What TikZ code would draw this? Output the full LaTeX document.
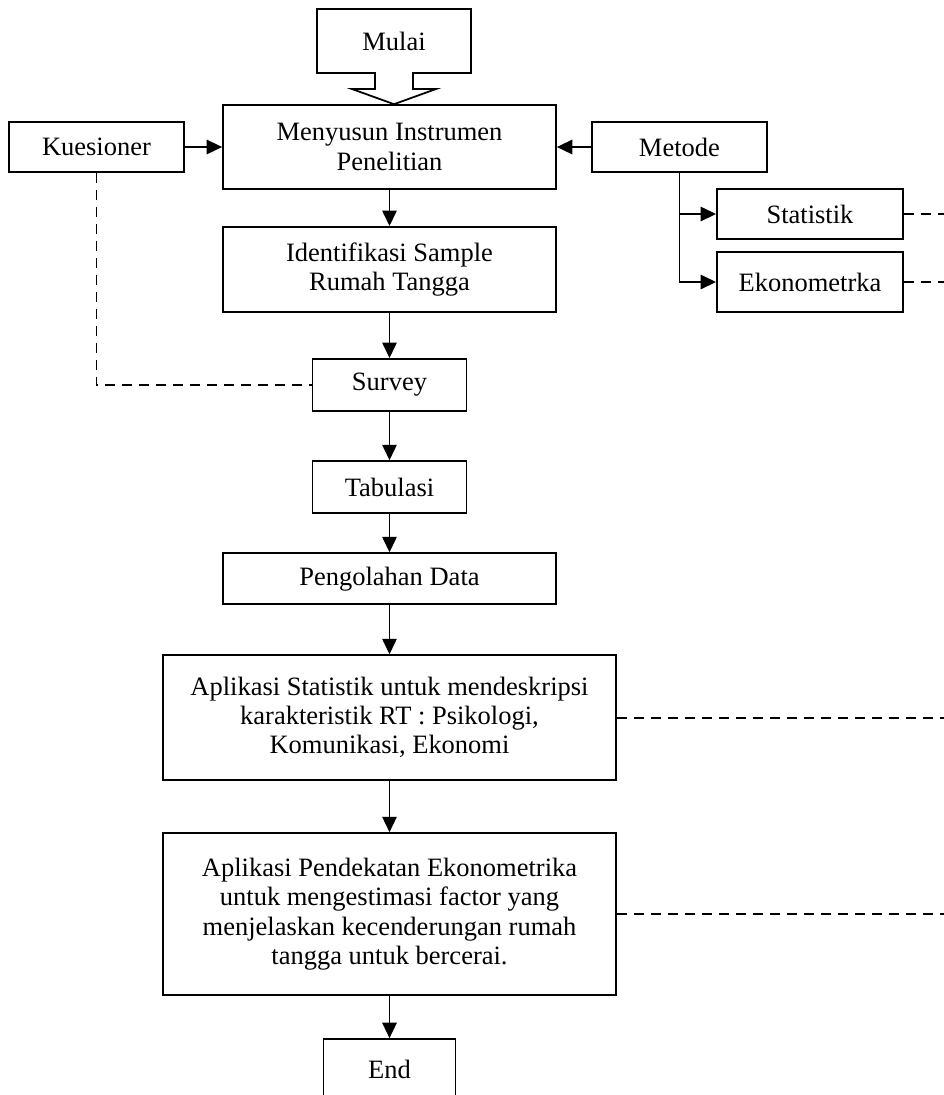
\documentclass[tikz,border=0pt]{standalone}
\usepackage{fontspec}
\setmainfont{Liberation Serif}
\usetikzlibrary{arrows.meta,calc,positioning}
\tikzset{%
	block/.style    = {draw, rectangle, line width=0.8pt, align=center, font=\fontsize{12}{13.2}\selectfont},
	wide/.style     = {block, minimum width=150.8pt}, % main column
	small/.style    = {block, minimum width=69.8pt, minimum height=23.6pt},
	side/.style     = {block, minimum width=79.3pt, minimum height=22.7pt},
	method/.style   = {block, minimum width=84.3pt},
	long/.style     = {block, minimum width=205.2pt},
	arrow/.style    = {line width=0.8pt, -{Triangle[length=7pt,width=6.5pt]}},
	link/.style     = {line width=0.8pt, dash pattern=on 4.5pt off 3.2pt},
}

\begin{document}
\begin{tikzpicture}[x=0.453pt, y=-0.453pt]
	\useasboundingbox (0,0) rectangle (944,1095);
	\coordinate (rim) at (944,0);
	\node[wide, minimum height=38pt] (susun) at (389.5,147) {Menyusun Instrumen\\Penelitian};
	\node[font=\fontsize{12}{13.2}\selectfont, minimum width=69.8pt, minimum height=29pt, outer sep=0pt] (mulai) at (394,41) {Mulai};
	\node[side, left=16.9pt of susun] (kues) {Kuesioner};
	\node[side, right=15.5pt of susun] (metode) {Metode};
	\node[method, minimum height=22.7pt] (stat) at (810,214) {Statistik};
	\node[method, minimum height=27.2pt] (eko) at (810,282) {Ekonometrka};
	\node[wide, minimum height=38.5pt, below=16.4pt of susun] (ident) {Identifikasi Sample\\Rumah Tangga};
	\node[small, below=20.5pt of ident] (survey) {Survey};
	\node[small, below=21.9pt of survey] (tabul) {Tabulasi};
	\node[wide, minimum height=23.1pt, below=17.3pt of tabul] (olah) {Pengolahan Data};
	\node[long, minimum height=56.6pt, below=22.3pt of olah] (aplstat) {Aplikasi Statistik untuk mendeskripsi\\karakteristik RT : Psikologi,\\Komunikasi, Ekonomi};
	\node[long, minimum height=73.4pt, below=23.2pt of aplstat] (apleko) {Aplikasi Pendekatan Ekonometrika\\untuk mengestimasi factor yang\\menjelaskan kecenderungan rumah\\tangga untuk bercerai.};
	\node[block, minimum width=59.8pt, minimum height=27.2pt, below=19.1pt of apleko] (selesai) {End};
	% start arrow
	\draw[line width=0.8pt] (mulai.north west) -- (mulai.north east) -- (mulai.south east)
		-- ($(mulai.south)+(19,0)$) -- ($(mulai.south)+(19,16)$) -- ($(mulai.south)+(42,16)$)
		-- (susun.north -| mulai.south)
		-- ($(mulai.south)+(-42,16)$) -- ($(mulai.south)+(-19,16)$) -- ($(mulai.south)+(-19,0)$)
		-- (mulai.south west) -- cycle;
	\draw[arrow] (kues) -- (susun);
	\draw[arrow] (metode) -- (susun);
	\draw[arrow] (metode.south) |- (stat.west);
	\draw[arrow] (metode.south) |- (eko.west);
	\draw[arrow] (susun) -- (ident);
	\draw[arrow] (ident) -- (survey);
	\draw[arrow] (survey) -- (tabul);
	\draw[arrow] (tabul) -- (olah);
	\draw[arrow] (olah) -- (aplstat);
	\draw[arrow] (aplstat) -- (apleko);
	\draw[arrow] (apleko) -- (selesai);
	% dashed links
	\draw[link] (kues.south) |- (survey.west);
	\draw[link] (stat.east) -- (stat.east -| rim);
	\draw[link] (eko.east) -- (eko.east -| rim);
	\draw[link] (aplstat.east) -- (aplstat.east -| rim);
	\draw[link] (apleko.east) -- (apleko.east -| rim);
\end{tikzpicture}
\end{document}
